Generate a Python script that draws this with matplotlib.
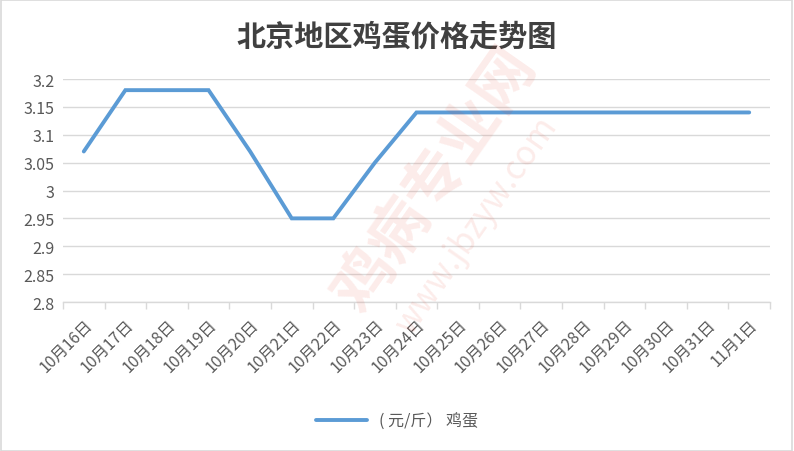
import matplotlib
matplotlib.use("Agg")
import matplotlib.pyplot as plt
from matplotlib.patches import Rectangle

plt.rcParams['font.family'] = ['Noto Sans CJK SC', 'DejaVu Sans']

dates = ['10月16日', '10月17日', '10月18日', '10月19日', '10月20日', '10月21日',
         '10月22日', '10月23日', '10月24日', '10月25日', '10月26日', '10月27日',
         '10月28日', '10月29日', '10月30日', '10月31日', '11月1日']
prices = [3.07, 3.18, 3.18, 3.18, 3.07, 2.95, 2.95, 3.05, 3.14, 3.14,
          3.14, 3.14, 3.14, 3.14, 3.14, 3.14, 3.14]
yticks = [2.8, 2.85, 2.9, 2.95, 3.0, 3.05, 3.1, 3.15, 3.2]
ytick_labels = ['2.8', '2.85', '2.9', '2.95', '3', '3.05', '3.1', '3.15', '3.2']

fig = plt.figure(figsize=(7.94, 4.52), dpi=100)
fig.patches.append(Rectangle((0.001, 0.001), 0.997, 0.997, transform=fig.transFigure,
                             fill=False, edgecolor='#d9d9d9', lw=1.2))
ax = fig.add_axes([63/794, 1 - 303/452, (770 - 63)/794, (303 - 80)/452])

x = range(len(dates))
ax.plot(x, prices, color='#5b9bd5', lw=2.8, solid_joinstyle='miter',
        solid_capstyle='round', label='( 元/斤） 鸡蛋', zorder=3)

ax.set_xlim(-0.5, len(dates) - 0.5)
ax.set_ylim(2.8, 3.2)
ax.set_yticks(yticks)
ax.set_yticklabels(ytick_labels)
ax.set_xticks([i - 0.5 for i in range(len(dates) + 1)], minor=False)
ax.set_xticklabels([])
ax.set_xticks(list(x), minor=True)
ax.set_xticklabels(dates, minor=True, rotation=45, ha='right', va='top',
                   rotation_mode='anchor')
ax.tick_params(axis='x', which='major', length=5, color='#d9d9d9', width=1)
ax.tick_params(axis='x', which='minor', length=0, pad=10, labelsize=11.5, labelcolor='#595959')
ax.tick_params(axis='y', length=0, labelsize=11.5, labelcolor='#595959', pad=6)

ax.grid(axis='y', color='#d9d9d9', lw=1)
ax.set_axisbelow(True)
for side in ['top', 'right', 'left']:
    ax.spines[side].set_visible(False)
ax.spines['bottom'].set_color('#d9d9d9')
ax.spines['bottom'].set_linewidth(1)

fig.text(0.5, 1 - 37/452, '北京地区鸡蛋价格走势图', ha='center', va='center',
         fontsize=21, color='#404040', fontweight='bold')

# faint watermark
fig.text(0.55, 0.6, '鸡病专业网', ha='center', va='center', fontsize=44,
         color='#e8412c', alpha=0.1, rotation=55, fontweight='bold')
fig.text(0.6, 0.5, 'www.jbzyw.com', ha='center', va='center', fontsize=24,
         color='#e8412c', alpha=0.1, rotation=55)

ax.legend(loc='center', bbox_to_anchor=(0.5, 1 - 422/452), bbox_transform=fig.transFigure,
          frameon=False, fontsize=11.5, labelcolor='#595959', handlelength=3.2)

fig.savefig('out.png', dpi=100)
